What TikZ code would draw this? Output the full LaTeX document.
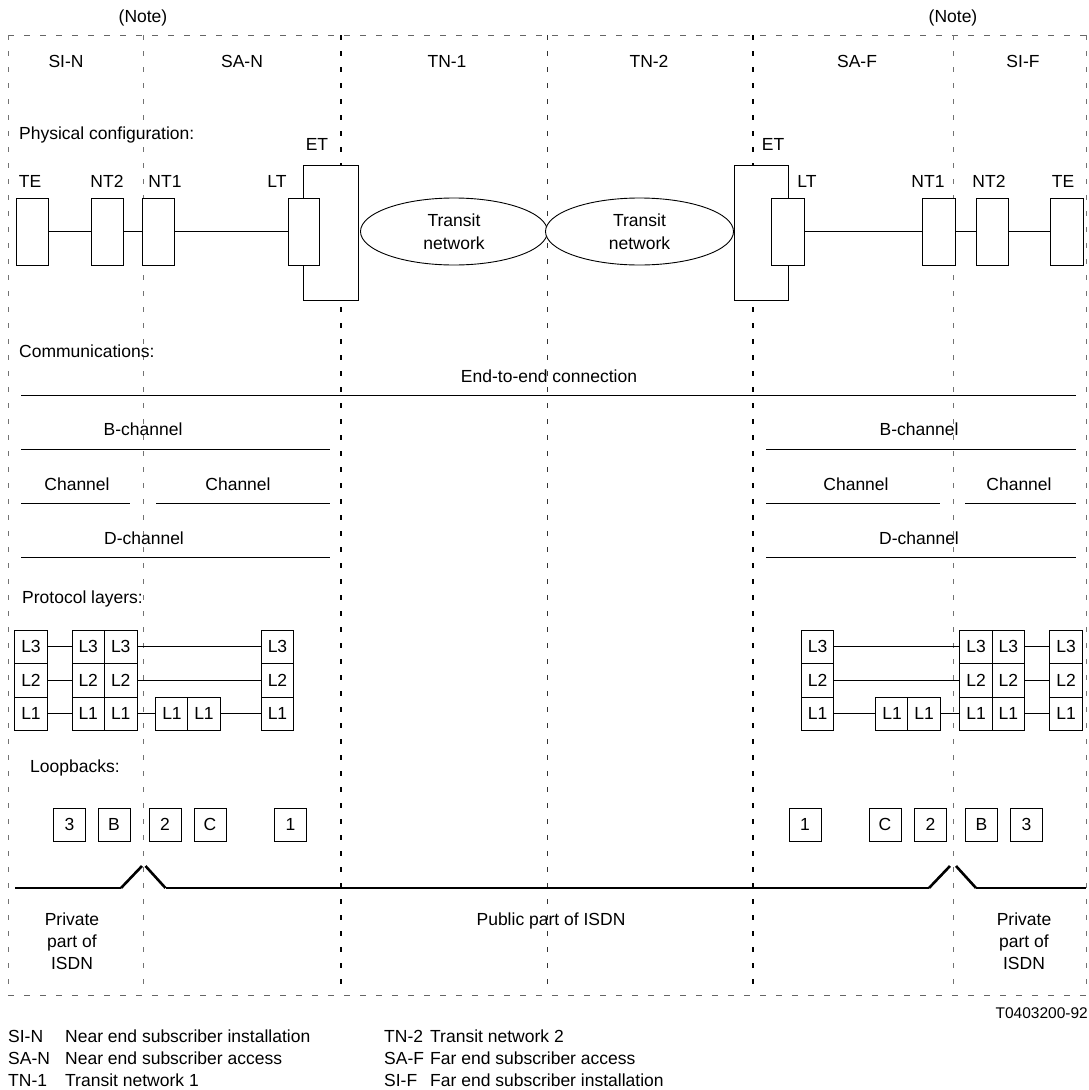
\documentclass[tikz,border=0pt]{standalone}
\usepackage{fontspec}
\setmainfont{Liberation Sans}
\usetikzlibrary{shapes.geometric}
\begin{document}
\begin{tikzpicture}[x=1pt,y=-1pt,
  font=\fontsize{17.5}{22}\selectfont,
  txt/.style={inner sep=0pt, anchor=base},
  ltxt/.style={inner sep=0pt, anchor=base west},
  thinsep/.style={draw=black!55, line width=0.9pt, dash pattern=on 5pt off 11pt},
  thicksep/.style={draw=black, line width=2pt, dash pattern=on 5pt off 11pt},
  midsep/.style={draw=black!80, line width=1pt, dash pattern=on 5pt off 11pt},
  hsep/.style={draw=black!60, line width=0.9pt, dash pattern=on 6pt off 10pt},
  pbox/.style={draw, fill=white, line width=0.9pt, inner sep=0pt, minimum width=32pt, minimum height=67pt},
  lbox/.style={draw, fill=white, line width=1pt, inner sep=0pt, minimum width=32.5pt, minimum height=33.5pt},
  kbox/.style={draw, fill=white, line width=0.9pt, inner sep=0pt, minimum width=32pt, minimum height=33pt},
  conn/.style={draw, line width=0.8pt},
  chan/.style={draw, line width=0.9pt},
  isdn/.style={draw, line width=1.4pt},
  bump/.style={draw, line width=2.6pt},
  trans/.style={draw, fill=white, ellipse, line width=0.9pt, inner sep=0pt, minimum width=187pt, minimum height=67pt, align=center, font=\fontsize{17.5}{23}\selectfont},
  note/.style={inner sep=0pt, anchor=base, font=\fontsize{15.5}{18}\selectfont}
]
\useasboundingbox (0,0) rectangle (1088,1090);

% frame corners
\coordinate (tl) at (8,35);
\coordinate (tr) at (1086,35);
\coordinate (bl) at (8,995);
\coordinate (br) at (1086,995);
% separators
\path[hsep] (tl) -- (tr);
\path[hsep] (bl) -- (br);
\path[thinsep] (tl) -- (bl);
\path[thinsep] (tr) -- (br);
\coordinate (s1t) at (143,35);  \coordinate (s1b) at (143,995);
\coordinate (s2t) at (341,35);  \coordinate (s2b) at (341,995);
\coordinate (s3t) at (547,35);  \coordinate (s3b) at (547,995);
\coordinate (s4t) at (753,35);  \coordinate (s4b) at (753,995);
\coordinate (s5t) at (953,35);  \coordinate (s5b) at (953,995);
\path[thinsep] (s1t) -- (s1b);
\path[thicksep] (s2t) -- (s2b);
\path[midsep] (s3t) -- (s3b);
\path[thicksep] (s4t) -- (s4b);
\path[thinsep] (s5t) -- (s5b);

% headings
\node[txt] (noteL) at (143,22) {(Note)};
\node[txt] (noteR) at (953,22) {(Note)};
\node[txt] (hsin) at (66,67) {SI-N};
\node[txt] (hsan) at (242,67) {SA-N};
\node[txt] (htn1) at (447,67) {TN-1};
\node[txt] (htn2) at (649,67) {TN-2};
\node[txt] (hsaf) at (857,67) {SA-F};
\node[txt] (hsif) at (1023,67) {SI-F};

% physical configuration
\node[ltxt] (phys) at (19,139) {Physical configuration:};
\node[pbox] (te) at (32,231.5) {};
\node[pbox] (nt2) at (107,231.5) {};
\node[pbox] (nt1) at (158,231.5) {};
\node[pbox, minimum width=55pt, minimum height=135pt] (et) at (330.5,232.5) {};
\node[pbox, minimum width=31pt] (lt) at (303.5,231.5) {};
\node[trans] (tr1) at (454,231.5) {Transit\\network};
\node[trans, minimum width=188pt] (tr2) at (639.5,231.5) {Transit\\network};
\node[pbox, minimum width=54pt, minimum height=135pt] (etr) at (761,232.5) {};
\node[pbox, minimum width=32.5pt] (ltr) at (788,231.5) {};
\node[pbox, minimum width=33pt] (nt1r) at (938.5,231.5) {};
\node[pbox] (nt2r) at (992,231.5) {};
\node[pbox, minimum width=33pt] (ter) at (1066.5,231.5) {};
\node[txt] (lte) at (30,187) {TE};
\node[txt] (lnt2) at (107,187) {NT2};
\node[txt] (lnt1) at (165,187) {NT1};
\node[txt] (llt) at (277,187) {LT};
\node[txt] (let) at (317,150) {ET};
\node[txt] (letr) at (773,150) {ET};
\node[txt] (lltr) at (807,187) {LT};
\node[txt] (lnt1r) at (928,187) {NT1};
\node[txt] (lnt2r) at (989,187) {NT2};
\node[txt] (lter) at (1063,187) {TE};
\path[conn] (te.east) -- (nt2.west);
\path[conn] (nt2.east) -- (nt1.west);
\path[conn] (nt1.east) -- (lt.west);
\path[conn] (ltr.east) -- (nt1r.west);
\path[conn] (nt1r.east) -- (nt2r.west);
\path[conn] (nt2r.east) -- (ter.west);

% communications
\node[ltxt] (comm) at (19,357) {Communications:};
\coordinate (e1) at (21,395); \coordinate (e2) at (1076,395);
\path[chan] (e1) -- (e2);
\node[txt] (ete) at (549,382) {End-to-end connection};
\coordinate (b1) at (21,449); \coordinate (b2) at (330,449);
\coordinate (b3) at (766,449); \coordinate (b4) at (1076,449);
\path[chan] (b1) -- (b2); \path[chan] (b3) -- (b4);
\node[txt] (bl1) at (143,435) {B-channel};
\node[txt] (bl2) at (919,435) {B-channel};
\coordinate (c1) at (21,503); \coordinate (c2) at (130,503);
\coordinate (c3) at (156,503); \coordinate (c4) at (330,503);
\coordinate (c5) at (766,503); \coordinate (c6) at (940,503);
\coordinate (c7) at (965,503); \coordinate (c8) at (1076,503);
\path[chan] (c1) -- (c2); \path[chan] (c3) -- (c4);
\path[chan] (c5) -- (c6); \path[chan] (c7) -- (c8);
\node[txt] (cl1) at (77,490) {Channel};
\node[txt] (cl2) at (238,490) {Channel};
\node[txt] (cl3) at (856,490) {Channel};
\node[txt] (cl4) at (1019,490) {Channel};
\coordinate (d1) at (21,557); \coordinate (d2) at (330,557);
\coordinate (d3) at (766,557); \coordinate (d4) at (1076,557);
\path[chan] (d1) -- (d2); \path[chan] (d3) -- (d4);
\node[txt] (dl1) at (144,544) {D-channel};
\node[txt] (dl2) at (919,544) {D-channel};

% protocol layers
\node[ltxt] (prot) at (22,603) {Protocol layers:};
\foreach \n/\x in {a/31, b/88.25, c/120.75, f/277.5, g/817.5, j/976, k/1008.25, m/1066} {
  \node[lbox] (\n3) at (\x,646.75) {L3};
  \node[lbox] (\n2) at (\x,680.25) {L2};
  \node[lbox] (\n1) at (\x,713.75) {L1};
}
\foreach \n/\x in {d/172, e/204, h/892, i/924} {
  \node[lbox] (\n1) at (\x,713.75) {L1};
}
\foreach \r in {3,2} {
  \path[conn] (a\r.east) -- (b\r.west);
  \path[conn] (c\r.east) -- (f\r.west);
  \path[conn] (g\r.east) -- (j\r.west);
  \path[conn] (k\r.east) -- (m\r.west);
}
\path[conn] (a1.east) -- (b1.west);
\path[conn] (c1.east) -- (d1.west);
\path[conn] (e1.east) -- (f1.west);
\path[conn] (g1.east) -- (h1.west);
\path[conn] (i1.east) -- (j1.west);
\path[conn] (k1.east) -- (m1.west);

% loopbacks
\node[ltxt] (loop) at (30,772) {Loopbacks:};
\node[kbox] (lb3) at (69.5,824.5) {3};
\node[kbox] (lbB) at (114,824.5) {B};
\node[kbox] (lb2) at (165,824.5) {2};
\node[kbox] (lbC) at (210,824.5) {C};
\node[kbox] (lb1) at (290.5,824.5) {1};
\node[kbox] (rb1) at (805,824.5) {1};
\node[kbox] (rbC) at (885,824.5) {C};
\node[kbox] (rb2) at (930.5,824.5) {2};
\node[kbox] (rbB) at (981.5,824.5) {B};
\node[kbox] (rb3) at (1026.5,824.5) {3};

% private / public split
\coordinate (p1) at (15,888);  \coordinate (p2) at (121,888);  \coordinate (p3) at (142,866);
\coordinate (q1) at (145.5,866); \coordinate (q2) at (165.5,888); \coordinate (q3) at (929,888); \coordinate (q4) at (950,866);
\coordinate (r1) at (956,866); \coordinate (r2) at (976,888); \coordinate (r3) at (1086,888);
\path[isdn] (p1) -- (p2);
\path[bump] (p2) -- (p3);
\path[bump] (q1) -- (q2);
\path[isdn] (q2) -- (q3);
\path[bump] (q3) -- (q4);
\path[bump] (r1) -- (r2);
\path[isdn] (r2) -- (r3);
\node[inner sep=0pt, align=center] (privL) at (72,941) {Private\\part of\\ISDN};
\node[inner sep=0pt, align=center] (privR) at (1024,941) {Private\\part of\\ISDN};
\node[txt] (pub) at (551,925) {Public part of ISDN};

\node[note, anchor=base east] (code) at (1088,1018) {T0403200-92};

% legend
\node[ltxt] (k1) at (8,1042) {SI-N};
\node[ltxt] (k2) at (8,1064) {SA-N};
\node[ltxt] (k3) at (8,1086) {TN-1};
\node[ltxt] (v1) at (65,1042) {Near end subscriber installation};
\node[ltxt] (v2) at (65,1064) {Near end subscriber access};
\node[ltxt] (v3) at (65,1086) {Transit network 1};
\node[ltxt] (k4) at (384,1042) {TN-2};
\node[ltxt] (k5) at (384,1064) {SA-F};
\node[ltxt] (k6) at (384,1086) {SI-F};
\node[ltxt] (v4) at (430,1042) {Transit network 2};
\node[ltxt] (v5) at (430,1064) {Far end subscriber access};
\node[ltxt] (v6) at (430,1086) {Far end subscriber installation};
\end{tikzpicture}
\end{document}
